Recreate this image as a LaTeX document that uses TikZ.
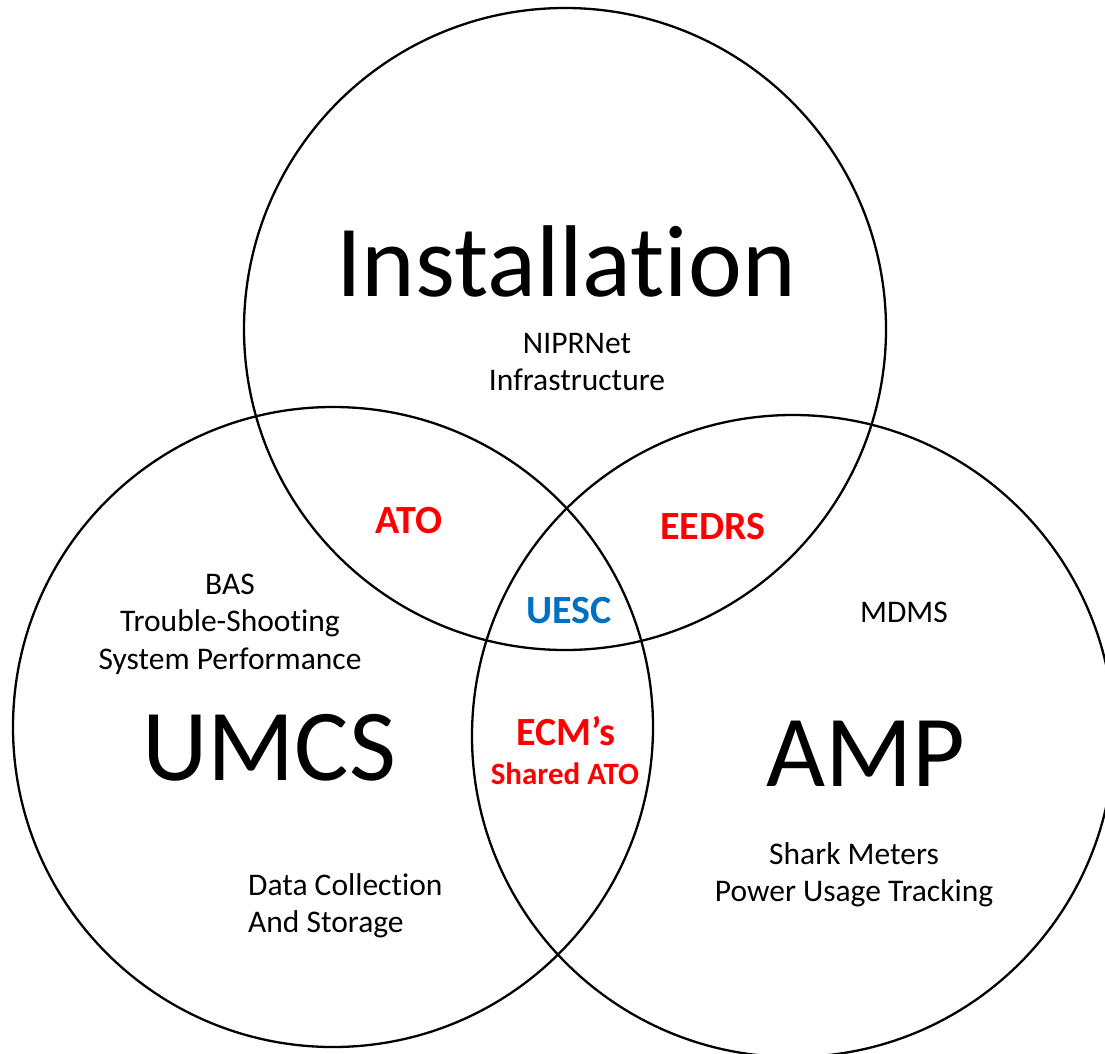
\documentclass[tikz,border=0pt]{standalone}
\usepackage{fontspec}
\setmainfont[Ligatures = NoCommon]{Carlito}
\definecolor{overlapred}{RGB}{255,0,0}
\definecolor{uescblue}{RGB}{0,112,192}

\begin{document}
\begin{tikzpicture}[x = 1pt, y = -1pt,
        ring/.style = {draw = black, line width = 2.3pt, circle, inner sep = 0pt},
        title/.style = {font = \fontsize{102}{122}\selectfont, inner sep = 0pt},
        note/.style = {font = \fontsize{31.5}{37.5}\selectfont, align = center, inner sep = 0pt},
        overlap/.style = {font = \fontsize{40}{48}\selectfont\bfseries, text = overlapred, inner sep = 0pt}]
        \useasboundingbox (0, 0) rectangle (1105, 1054);

        \node [ring, minimum size = 642pt] (inst) at (565, 329) {};
        \node [ring, minimum size = 640pt] (umcs) at (333, 727) {};
        \node [ring, minimum size = 642pt] (amp) at (793, 736) {};

        \node [title, anchor = base] (insttitle) at (566, 296) {Installation};
        \node [title, anchor = base] (umcstitle) at (269, 780) {UMCS};
        \node [title, anchor = base] (amptitle) at (866, 786) {AMP};

        \node [note] (instnote) at (577, 362) {NIPRNet\\Infrastructure};
        \node [note] (basnote) at (230, 624) {BAS\\Trouble-Shooting\\System Performance};
        \node [note, align = left, anchor = west] (datanote) at (248, 906) {Data Collection\\And Storage};
        \node [note] (mdmsnote) at (904, 612) {MDMS};
        \node [note] (sharknote) at (854, 875) {Shark Meters\\Power Usage Tracking};

        \node [overlap] (ato) at (409, 521) {ATO};
        \node [overlap] (eedrs) at (713, 527) {EEDRS};
        \node [overlap, text = uescblue] (uesc) at (569, 611) {UESC};
        \node [overlap] (ecm) at (566, 731) {ECM’s};
        \node [overlap, font = \fontsize{31}{37}\selectfont\bfseries] (shared) at (565, 774) {Shared ATO};
    \end{tikzpicture}
\end{document}
